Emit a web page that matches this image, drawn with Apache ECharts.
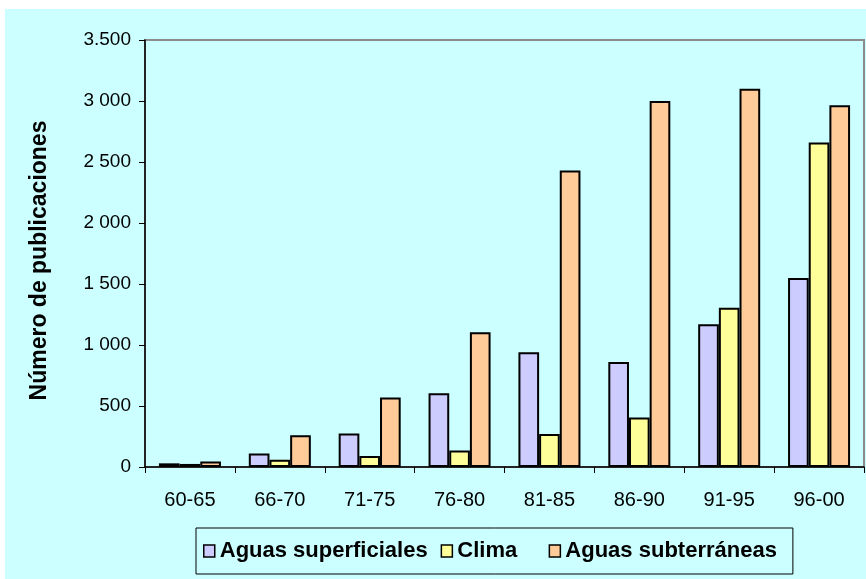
<!DOCTYPE html>
<html>
<head>
<meta charset="utf-8">
<script src="https://cdn.jsdelivr.net/npm/echarts@6/dist/echarts.min.js"></script>
<style>
  html, body { margin: 0; padding: 0; background: #ffffff; }
  #panel { position: absolute; left: 5px; top: 9px; width: 861px; height: 570px; background: #ccffff; }
  #chart { position: absolute; left: 0; top: 0; width: 866px; height: 579px; }
</style>
</head>
<body>
<div id="panel"></div>
<div id="chart"></div>
<script>
// Publications per five-year period
const periods = ['60-65', '66-70', '71-75', '76-80', '81-85', '86-90', '91-95', '96-00'];
const aguasSuperficiales = [30, 110, 275, 605, 940, 860, 1170, 1550];
const clima = [25, 60, 90, 135, 270, 405, 1305, 2660];
const aguasSubterraneas = [45, 260, 570, 1105, 2430, 3000, 3100, 2965];
const yTickLabels = ['0', '500', '1 000', '1 500', '2 000', '2 500', '3 000', '3.500'];

const FONT = "'Liberation Sans', Arial, sans-serif";
const chart = echarts.init(document.getElementById('chart'), null, { renderer: 'canvas' });

function barSeries(name, data, color) {
  return {
    name: name,
    type: 'bar',
    data: data,
    barGap: '0%',
    barCategoryGap: '31%',
    itemStyle: { color: color, borderColor: '#000000', borderWidth: 2 },
    emphasis: { disabled: true },
    animation: false
  };
}

chart.setOption({
  backgroundColor: 'transparent',
  animation: false,
  textStyle: { fontFamily: FONT },
  grid: {
    left: 145, top: 40, right: 2, bottom: 112,
    show: true, borderColor: '#8c8c8c', borderWidth: 2, backgroundColor: 'transparent'
  },
  legend: {
    data: ['Aguas superficiales', 'Clima', 'Aguas subterráneas'],
    left: 196, top: 528,
    orient: 'horizontal',
    backgroundColor: 'transparent',
    borderColor: '#000000', borderWidth: 1,
    padding: [12, 16, 12, 7],
    itemGap: 13,
    itemWidth: 11, itemHeight: 12,
    icon: 'rect',
    itemStyle: { borderColor: '#000000', borderWidth: 1.5 },
    // a little extra room after the short entry
    formatter: function (name) {
      return name === 'Clima' ? name + '\u00a0\u00a0\u00a0' : name;
    },
    textStyle: { fontFamily: FONT, fontSize: 22, fontWeight: 'bold', color: '#000000' }
  },
  xAxis: {
    type: 'category',
    data: periods,
    boundaryGap: true,
    axisLine: { lineStyle: { color: '#000000', width: 1.5 } },
    axisTick: { show: true, length: 6, alignWithLabel: false, lineStyle: { color: '#000000' } },
    axisLabel: { margin: 23, fontFamily: FONT, fontSize: 20, color: '#000000' }
  },
  yAxis: {
    type: 'value',
    min: 0, max: 3500, interval: 500,
    name: 'Número de publicaciones',
    nameLocation: 'middle',
    nameRotate: 90,
    nameGap: 94,
    nameTextStyle: {
      fontFamily: FONT, fontSize: 23, fontWeight: 'bold', color: '#000000',
      padding: [0, 14, 0, 0]
    },
    axisLine: { show: true, lineStyle: { color: '#000000', width: 1.5 } },
    axisTick: { show: true, length: 6, lineStyle: { color: '#000000' } },
    splitLine: { show: false },
    axisLabel: {
      margin: 14, fontFamily: FONT, fontSize: 19, color: '#000000',
      formatter: function (v) { return yTickLabels[Math.round(v / 500)]; }
    }
  },
  series: [
    barSeries('Aguas superficiales', aguasSuperficiales, '#ccccff'),
    barSeries('Clima', clima, '#ffff99'),
    barSeries('Aguas subterráneas', aguasSubterraneas, '#ffcc99')
  ]
});
</script>
</body>
</html>
